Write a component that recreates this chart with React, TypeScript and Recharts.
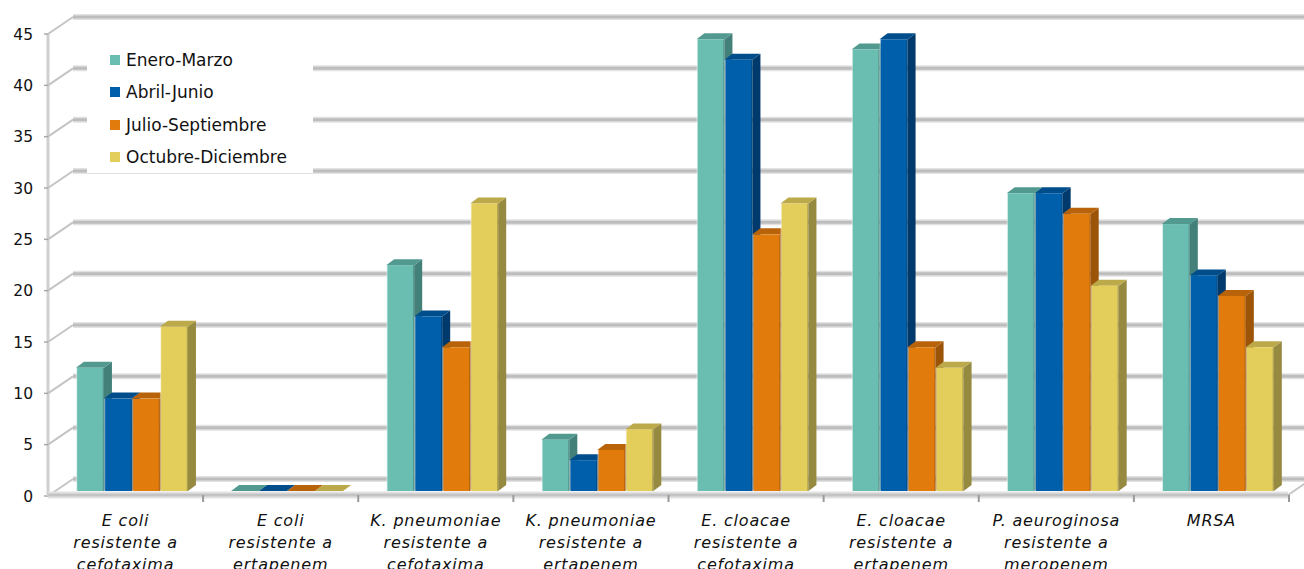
import React from 'react';
import { BarChart, Bar, XAxis, YAxis, CartesianGrid } from 'recharts';

const categories = [
  'E coli\nresistente a\ncefotaxima',
  'E coli\nresistente a\nertapenem',
  'K. pneumoniae\nresistente a\ncefotaxima',
  'K. pneumoniae\nresistente a\nertapenem',
  'E. cloacae\nresistente a\ncefotaxima',
  'E. cloacae\nresistente a\nertapenem',
  'P. aeuroginosa\nresistente a\nmeropenem',
  'MRSA',
];

const eneroMarzo = [12, 0, 22, 5, 44, 43, 29, 26];
const abrilJunio = [9, 0, 17, 3, 42, 44, 29, 21];
const julioSeptiembre = [9, 0, 14, 4, 25, 14, 27, 19];
const octubreDiciembre = [16, 0, 28, 6, 28, 12, 20, 14];

const yTicks = [0, 5, 10, 15, 20, 25, 30, 35, 40, 45];

const series = [
  { key: 'q1', name: 'Enero-Marzo', values: eneroMarzo, front: '#6abdb1', top: '#529a90', side: '#44807a' },
  { key: 'q2', name: 'Abril-Junio', values: abrilJunio, front: '#005faa', top: '#004d8c', side: '#003a6c' },
  { key: 'q3', name: 'Julio-Septiembre', values: julioSeptiembre, front: '#e07b0c', top: '#b8630a', side: '#9c5408' },
  { key: 'q4', name: 'Octubre-Diciembre', values: octubreDiciembre, front: '#e3ce5c', top: '#bba94a', side: '#968940' },
];

const data = categories.map((name, i) => {
  const row: Record<string, string | number> = { name };
  series.forEach(s => { row[s.key] = s.values[i]; });
  return row;
});

const W = 1304;
const H = 569;
const Y_AXIS_W = 55;
const M = { top: 29, right: 8, bottom: 0, left: 0 };
const X_AXIS_H = 78;
const PLOT_BOTTOM = H - X_AXIS_H;
const DX = 8;
const DY = -6;
const FONT = '"DejaVu Sans", Verdana, sans-serif';

const makeShape = (s: typeof series[number]) => (props: any) => {
  const { x, y, width, height } = props;
  const h = Math.max(height || 0, 0);
  const w = width;
  return (
    <g>
      <polygon
        points={`${x + w},${y} ${x + w + DX},${y + DY} ${x + w + DX},${y + h + DY} ${x + w},${y + h}`}
        fill={s.side}
      />
      <polygon
        points={`${x},${y} ${x + DX},${y + DY} ${x + w + DX},${y + DY} ${x + w},${y}`}
        fill={s.top}
      />
      {h > 0 && <rect x={x} y={y} width={w} height={h} fill={`url(#grad-${s.key})`} />}
    </g>
  );
};

const GridLine = (props: any) => {
  const { x1, x2, y1 } = props;
  const isZero = Math.abs(y1 - PLOT_BOTTOM) < 1;
  const bandW = (x2 - x1) / categories.length;
  const fx = x1 - 7;
  return (
    <g>
      <line x1={x1 + 18} y1={y1 - 12} x2={x2 + 17} y2={y1 - 12} stroke="#e2e2e2" strokeWidth={6} />
      <line x1={x1 + 18} y1={y1 - 12} x2={x2 + 17} y2={y1 - 12} stroke="#bdbdbd" strokeWidth={3} />
      <line x1={fx} y1={y1 + 5} x2={x1 + 18} y2={y1 - 12} stroke="#c4c4c4" strokeWidth={2} />
      <line x1={fx - 4} y1={y1 + 5} x2={fx} y2={y1 + 5} stroke="#a8a8a8" strokeWidth={1.5} />
      {isZero && (
        <g>
          <line x1={fx} y1={y1 + 5} x2={fx} y2={M.top + 5} stroke="#d0d0d0" strokeWidth={3} />
          <line x1={fx} y1={y1 + 4} x2={x2 - 8} y2={y1 + 4} stroke="#e2e2e2" strokeWidth={7} />
          <line x1={fx} y1={y1 + 4} x2={x2 - 8} y2={y1 + 4} stroke="#c4c4c4" strokeWidth={3} />
          <line x1={x2 - 8} y1={y1 + 4} x2={x2 + 17} y2={y1 - 13} stroke="#c4c4c4" strokeWidth={2} />
          {categories.map((_, k) => (
            <line
              key={k}
              x1={fx + (k + 1) * bandW}
              y1={y1 + 4}
              x2={fx + (k + 1) * bandW}
              y2={y1 + 11}
              stroke="#9a9a9a"
              strokeWidth={2}
            />
          ))}
        </g>
      )}
    </g>
  );
};

const YTick = (props: any) => {
  const { y, payload } = props;
  return (
    <text x={Y_AXIS_W - 22} y={y + 5} dy="0.36em" textAnchor="end" fontSize={15.5} fontFamily={FONT} fill="#111">
      {payload.value}
    </text>
  );
};

const XTick = (props: any) => {
  const { x, payload } = props;
  const lines = String(payload.value).split('\n');
  return (
    <text textAnchor="middle" fontSize={16} letterSpacing={0.8} fontStyle="italic" fontFamily={FONT} fill="#111">
      {lines.map((l, i) => (
        <tspan key={i} x={x - 7} y={PLOT_BOTTOM + 35 + i * 22}>{l}</tspan>
      ))}
    </text>
  );
};

export default function App() {
  return (
    <div style={{ position: 'absolute', left: 0, top: 0, width: W, height: H, background: '#fff', overflow: 'hidden' }}>
      <BarChart
        width={W}
        height={H}
        data={data}
        margin={M}
        barCategoryGap="13.5%"
        barGap={0}
      >
        <defs>
          {series.map(s => (
            <linearGradient key={s.key} id={`grad-${s.key}`} x1="0" y1="0" x2="1" y2="0">
              <stop offset="0" stopColor="#ffffff" stopOpacity={0.35} />
              <stop offset="0.06" stopColor={s.front} />
              <stop offset="0.94" stopColor={s.front} />
              <stop offset="1" stopColor={s.side} />
            </linearGradient>
          ))}
        </defs>
        <CartesianGrid vertical={false} horizontal={(p: any) => <GridLine key={p.key} {...p} />} />
        <XAxis dataKey="name" tick={<XTick />} tickLine={false} axisLine={false} height={X_AXIS_H} interval={0} />
        <YAxis
          domain={[0, 45]}
          ticks={yTicks}
          tick={<YTick />}
          tickLine={false}
          axisLine={false}
          width={Y_AXIS_W}
          interval={0}
        />
        {series.map(s => (
          <Bar key={s.key} dataKey={s.key} name={s.name} isAnimationActive={false} shape={makeShape(s)} />
        ))}
      </BarChart>
      <div
        style={{
          position: 'absolute',
          left: 87,
          top: 40,
          width: 226,
          height: 133,
          background: '#fff',
          fontFamily: FONT,
          fontSize: 17,
          color: '#111',
        }}
      >
        {series.map((s, i) => (
          <div
            key={s.key}
            style={{ position: 'absolute', left: 23, top: 10 + i * 32.3, height: 20, display: 'flex', alignItems: 'center' }}
          >
            <span style={{ display: 'inline-block', width: 10, height: 10, background: s.front, marginRight: 6 }} />
            <span style={{ whiteSpace: 'nowrap' }}>{s.name}</span>
          </div>
        ))}
      </div>
    </div>
  );
}
